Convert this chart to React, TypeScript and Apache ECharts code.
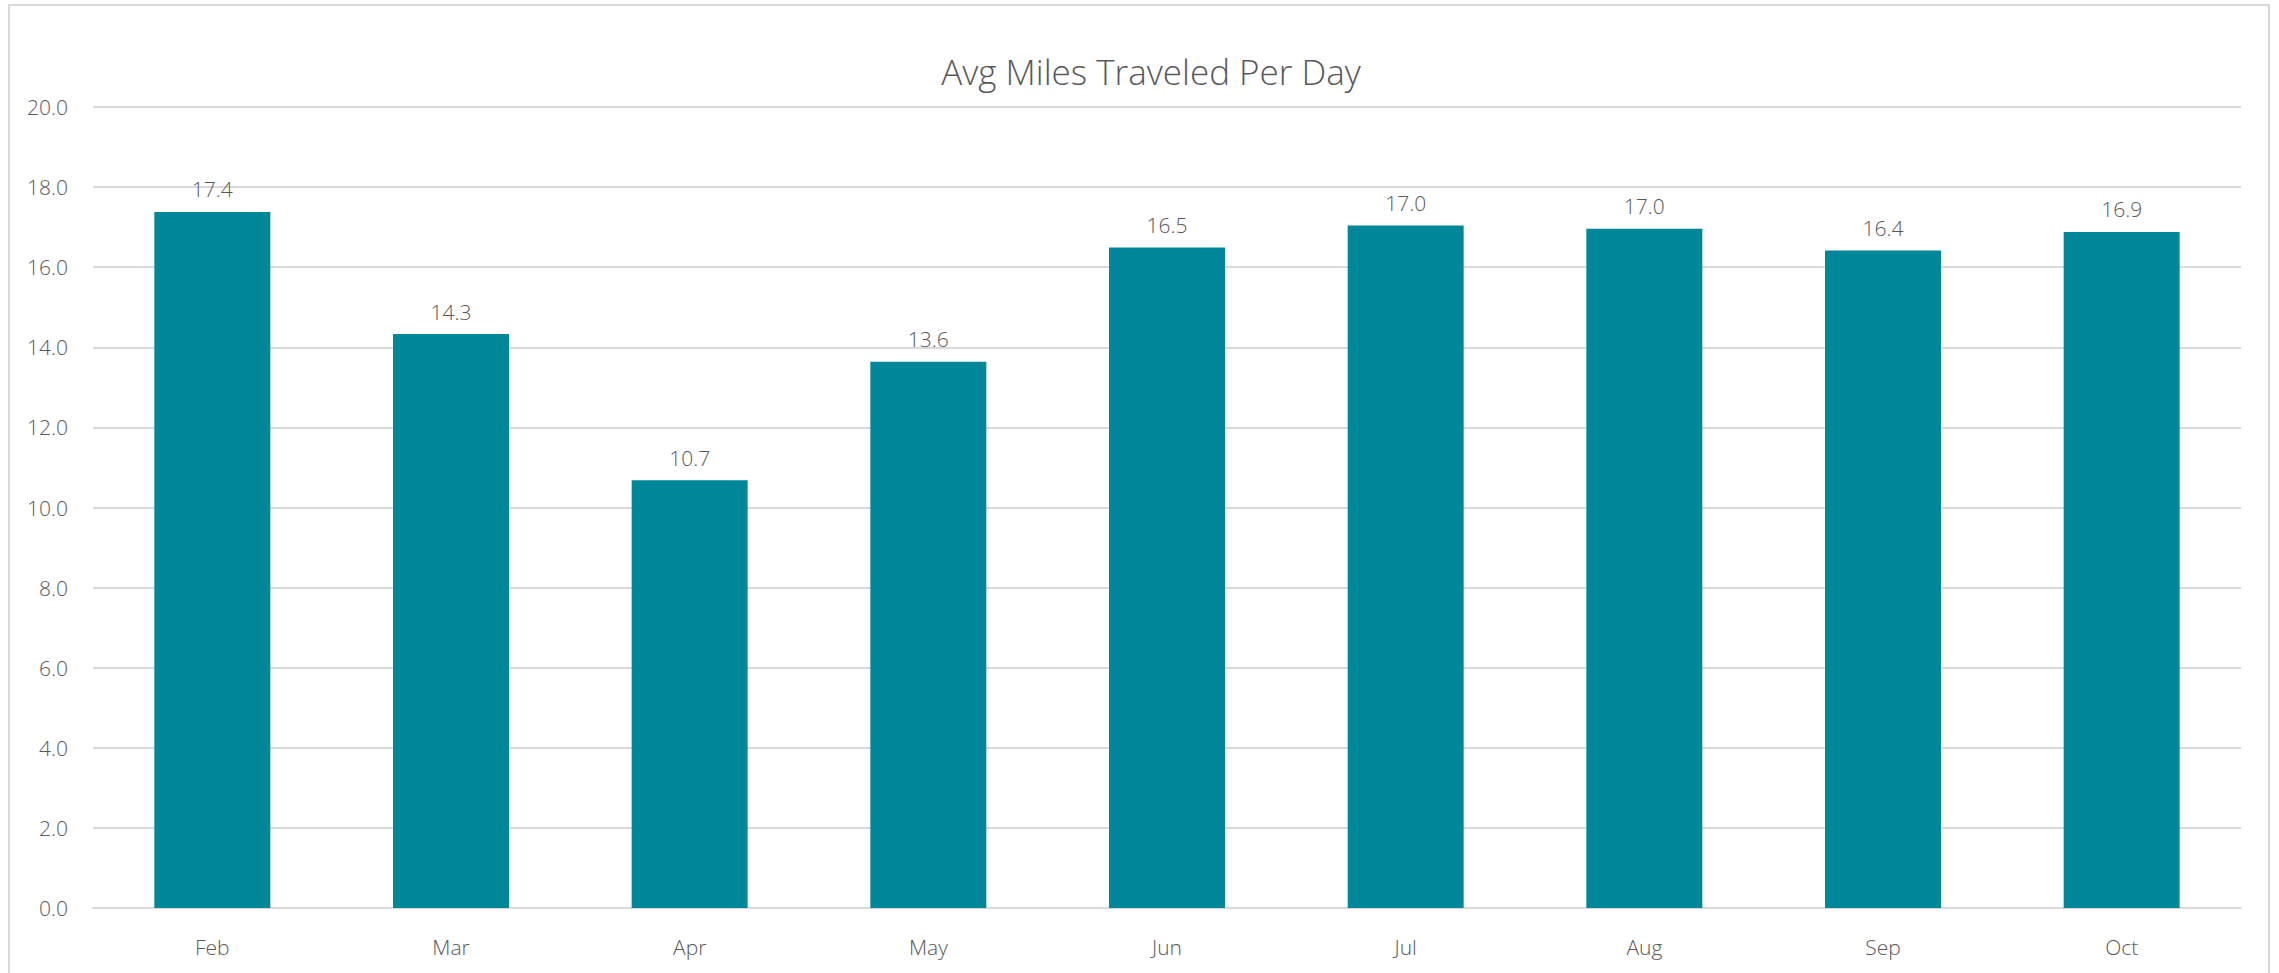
import React, { useEffect, useRef } from "react";
import * as echarts from "echarts";

const categories = ["Feb", "Mar", "Apr", "May", "Jun", "Jul", "Aug", "Sep", "Oct"];
const milesPerDay = [17.38, 14.33, 10.68, 13.64, 16.49, 17.04, 16.96, 16.42, 16.88];
const yTicks = { min: 0, max: 20, interval: 2 };
const titleText = "Avg Miles Traveled Per Day";

const FONT = "'Open Sans', 'Noto Sans', sans-serif";
const GRAY = "#595959";

export default function App() {
  const ref = useRef<HTMLDivElement>(null);
  useEffect(() => {
    if (!ref.current) return;
    const chart = echarts.init(ref.current, null, { renderer: "svg" });
    chart.setOption({
      animation: false,
      backgroundColor: "#ffffff",
      graphic: [
        {
          type: "rect",
          shape: { x: 9, y: 5, width: 2260, height: 1000 },
          style: { fill: "none", stroke: "#d9d9d9", lineWidth: 2 },
          silent: true,
        },
      ],
      title: {
        text: titleText,
        left: 1146,
        textAlign: "center",
        top: 49,
        textStyle: { fontFamily: FONT, fontWeight: 300, fontSize: 35, color: GRAY },
      },
      grid: { left: 93, right: 38, top: 107, bottom: 65, containLabel: false },
      xAxis: {
        type: "category",
        data: categories,
        axisLine: { show: true, lineStyle: { color: "#d9d9d9", width: 2 } },
        axisTick: { show: false },
        axisLabel: { margin: 28, fontFamily: FONT, fontWeight: 300, fontSize: 21, color: GRAY },
      },
      yAxis: {
        type: "value",
        min: yTicks.min,
        max: yTicks.max,
        interval: yTicks.interval,
        axisLine: { show: false },
        axisTick: { show: false },
        splitLine: { lineStyle: { color: "#d9d9d9", width: 2 } },
        axisLabel: {
          margin: 25,
          fontFamily: FONT,
          fontWeight: 300,
          fontSize: 21,
          color: GRAY,
          formatter: (v: number) => v.toFixed(1),
        },
      },
      series: [
        {
          type: "bar",
          data: milesPerDay,
          barWidth: 116,
          itemStyle: { color: "#00889a" },
          label: {
            show: true,
            position: "top",
            distance: 12,
            fontFamily: FONT,
            fontWeight: 300,
            fontSize: 21,
            color: GRAY,
            formatter: (p: any) => Number(p.value).toFixed(1),
          },
        },
      ],
    });
    return () => chart.dispose();
  }, []);
  return (
    <div
      ref={ref}
      style={{ position: "fixed", left: 0, top: 0, width: 2279, height: 973 }}
    />
  );
}
